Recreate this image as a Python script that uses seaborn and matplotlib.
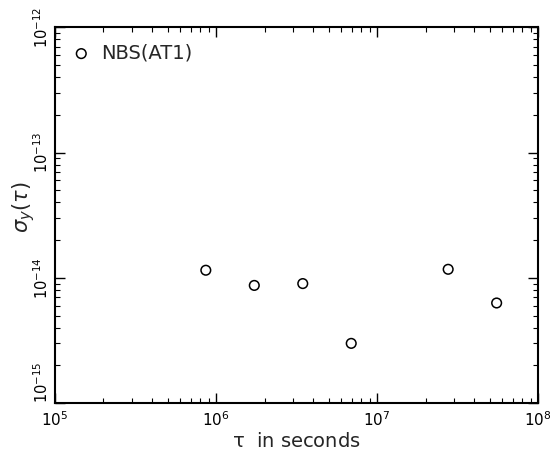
import numpy as np
import pandas as pd
import matplotlib
matplotlib.use("Agg")
import matplotlib.pyplot as plt
import seaborn as sns

# averaging time tau (s) and Allan deviation
tau = [8.64e5, 1.728e6, 3.456e6, 6.912e6, 2.7648e7, 5.5296e7]
sigma = [1.15e-14, 8.7e-15, 9.0e-15, 3.0e-15, 1.17e-14, 6.3e-15]
series = ["NBS(AT1)"] * len(tau)
xticks = [1e5, 1e6, 1e7, 1e8]
yticks = [1e-15, 1e-14, 1e-13, 1e-12]

df = pd.DataFrame({"tau": tau, "sigma": sigma, "clock": series})

sns.set_style("ticks")
plt.rcParams['font.family'] = ['DejaVu Sans']
plt.rcParams['mathtext.fontset'] = 'dejavusans'

fig = plt.figure(figsize=(5.53, 4.53), dpi=100)
ax = fig.add_axes([0.0995, 0.110, 0.8735, 0.830])

sns.scatterplot(data=df, x="tau", y="sigma", marker="o", s=48,
                color="black", linewidth=1.1, label=series[0], ax=ax)
ax.collections[0].set_facecolor("none")
ax.collections[0].set_edgecolor("black")

ax.set_xscale("log")
ax.set_yscale("log")
ax.set_xlim(1e5, 1e8)
ax.set_ylim(1e-15, 1e-12)
ax.set_xticks(xticks)
ax.set_yticks(yticks)

ax.tick_params(which="both", direction="in", top=True, right=True, colors="black")
ax.tick_params(which="major", length=7, width=1, labelsize=11)
ax.tick_params(axis="y", labelsize=10.5)
ax.tick_params(which="minor", length=3.5, width=0.8)
ax.tick_params(axis="y", labelrotation=90, pad=3)
ax.tick_params(axis="x", pad=5)
ylabels = ax.get_yticklabels()
for lbl in ylabels:
    lbl.set_va("center")
# lowest y label sits above its tick, clear of the 10^5 label
ylabels[0].set_va("bottom")
for sp in ax.spines.values():
    sp.set_linewidth(1.5)
    sp.set_color("black")

ax.set_xlabel(r"$\mathregular{\tau}$  in seconds", fontsize=14, labelpad=2)
ax.set_ylabel(r"$\sigma_y(\tau)$", fontsize=15)
ax.yaxis.set_label_coords(-0.037, 0.52)

handles, labels = ax.get_legend_handles_labels()
leg = ax.legend(handles, labels, loc="upper left", frameon=False, fontsize=14,
                handletextpad=0.5, handlelength=1.0, borderaxespad=0.45)
for h in leg.legend_handles:
    h.set_facecolor("none")
    h.set_edgecolor("black")

fig.savefig("out.png", dpi=100)
